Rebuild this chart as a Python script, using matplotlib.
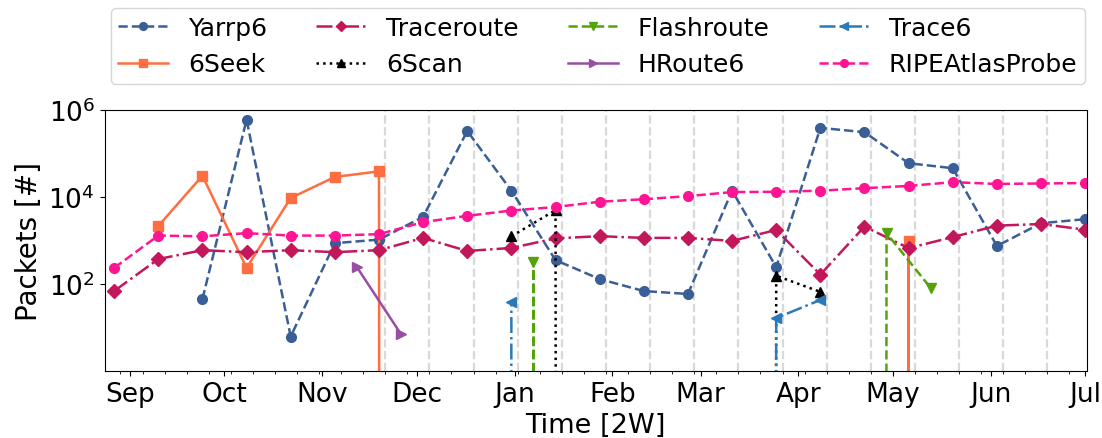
import numpy as np
import pandas as pd
import matplotlib
matplotlib.use("Agg")
import matplotlib.pyplot as plt
import matplotlib.dates as mdates

nan = np.nan

# two-week bins, and the half-step offset used by some tools
dates = pd.date_range("2022-08-27", periods=23, freq="14D")
dates_offset = dates + pd.Timedelta(days=7)
# grey campaign markers
campaign_lines = pd.date_range("2022-11-21", periods=16, freq="14D")

yarrp6 = [nan, nan, 45, 6e5, 6.2, 870, 1050, 3500, 3.3e5, 1.4e4, 355, 130, 69, 59,
          1.4e4, 245, 3.9e5, 3.1e5, 6e4, 4.6e4, 750, 2500, 3100]
seek6 = [nan, 2150, 3.1e4, 235, 9500, 2.9e4, 3.9e4, 0, nan, nan, nan, nan, nan, nan,
         nan, nan, nan, 0, 1000, 0, nan, nan, nan]
traceroute = [69, 375, 600, 540, 600, 540, 600, 1150, 575, 675, 1120, 1260, 1150, 1150,
              980, 1750, 165, 2100, 670, 1200, 2200, 2400, 1780]
scan6 = [nan, nan, nan, nan, nan, nan, nan, nan, nan, 1250, 5000, 0, nan, nan,
         0, 155, 66, nan, nan, nan, nan, nan, nan]
flashroute = [nan, nan, nan, nan, nan, nan, nan, nan, 0, 325, 0, nan, nan, nan,
              nan, nan, 0, 1480, 81, nan, nan, nan, nan]
hroute6 = [nan, nan, nan, nan, nan, 245, 7, nan, nan, nan, nan, nan, nan, nan,
           nan, nan, nan, nan, nan, nan, nan, nan, nan]
trace6 = [nan, nan, nan, nan, nan, nan, nan, nan, 0, 39, nan, nan, nan, nan,
          0, 16.5, 43, nan, nan, nan, nan, nan, nan]
ripe = [235, 1300, 1250, 1480, 1300, 1300, 1400, 2650, 3700, 4900, 5900, 7800, 8900,
        1.05e4, 1.3e4, 1.32e4, 1.4e4, 1.6e4, 1.8e4, 2.2e4, 2.0e4, 2.05e4, 2.1e4]

plt.rcParams['font.family'] = ['DejaVu Sans']

fig = plt.figure(figsize=(11.02, 4.39), dpi=100)
ax = fig.add_axes([0.095, 0.1526, 0.8914, 0.5944])

for d in campaign_lines:
    ax.axvline(d, color='#d9d9d9', linestyle='--', linewidth=1.6, zorder=0)

lw = 1.8
ms = 7
ax.plot(dates, yarrp6, '--', marker='o', color='#3a5e96', lw=lw, ms=ms, label='Yarrp6')
ax.plot(dates, seek6, '-', marker='s', color='#ff6e40', lw=lw, ms=ms, label='6Seek')
ax.plot(dates, traceroute, '-.', marker='D', color='#c2185b', lw=lw, ms=ms, label='Traceroute')
ax.plot(dates, scan6, ':', marker='^', color='black', lw=lw, ms=ms, label='6Scan')
ax.plot(dates_offset, flashroute, '--', marker='v', color='#55a30a', lw=lw, ms=ms, label='Flashroute')
ax.plot(dates_offset, hroute6, '-', marker='>', color='#984ea3', lw=lw, ms=ms, label='HRoute6')
ax.plot(dates, trace6, '-.', marker='<', color='#2a7ab9', lw=lw, ms=ms, label='Trace6')
ax.plot(dates, ripe, '--', marker='o', color='#ff1493', lw=lw, ms=ms, label='RIPEAtlasProbe')

ax.set_yscale('log')
ax.set_ylim(1, 1e6)
ax.set_yticks([1e2, 1e4, 1e6])
ax.yaxis.set_minor_locator(matplotlib.ticker.NullLocator())
ax.set_xlim(pd.Timestamp("2022-08-24"), pd.Timestamp("2023-07-01 14:00"))
ax.xaxis.set_major_locator(mdates.MonthLocator())
ax.xaxis.set_major_formatter(mdates.DateFormatter('%b'))
ax.xaxis.set_minor_locator(mdates.WeekdayLocator(byweekday=mdates.MO))
ax.tick_params(axis='both', which='major', labelsize=19)
ax.set_xlabel('Time [2W]', fontsize=19.5)
ax.set_ylabel('Packets [#]', fontsize=20)

ax.legend(loc='lower left', bbox_to_anchor=(0.006, 1.10, 0.992, 0.2), mode='expand',
          ncol=4, fontsize=18, borderaxespad=0, borderpad=0.3, markerscale=0.8)

fig.savefig('out.png', dpi=100)
